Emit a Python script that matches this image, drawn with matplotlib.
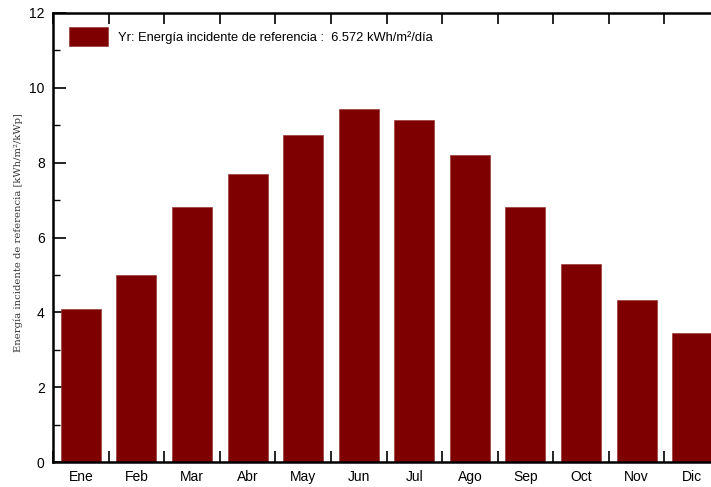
import matplotlib.pyplot as plt
import matplotlib.patches as mpatches
import numpy as np
from matplotlib.ticker import MultipleLocator

months = ["Ene", "Feb", "Mar", "Abr", "May", "Jun", "Jul", "Ago", "Sep", "Oct", "Nov", "Dic"]
yr = [4.09, 5.00, 6.81, 7.70, 8.74, 9.43, 9.14, 8.20, 6.81, 5.29, 4.33, 3.45]
legend_text = "Yr: Energía incidente de referencia :  6.572 kWh/m²/día"

plt.rcParams["font.family"] = ["Liberation Sans", "DejaVu Sans"]

fig = plt.figure(figsize=(7.11, 4.87), dpi=100)
# axes runs a little past the right edge, like the cropped original
ax = fig.add_axes([53 / 711, 25 / 487, 667 / 711, 449 / 487])

x = np.arange(len(months))
ax.bar(x, yr, width=0.72, color="#7f0000", edgecolor="#9a3a3a", linewidth=0.5, zorder=2)

ax.set_xlim(-0.5, 11.5)
ax.set_ylim(0, 12)
ax.set_xticks(x)
ax.set_xticklabels(months, fontsize=10)
ax.tick_params(axis="x", which="major", length=0, pad=6)
ax.set_xticks(np.arange(-0.5, 12, 1), minor=True)
ax.tick_params(axis="x", which="minor", direction="in", length=8, width=1.2, top=True, bottom=True)

ax.yaxis.set_major_locator(MultipleLocator(2))
ax.yaxis.set_minor_locator(MultipleLocator(1))
ax.tick_params(axis="y", which="major", direction="in", length=9, width=1.2, labelsize=10, pad=6)
ax.tick_params(axis="y", which="minor", direction="in", length=5, width=1)

for s in ax.spines.values():
    s.set_linewidth(1.8)
ax.spines["right"].set_visible(False)

ax.set_ylabel("Energía incidente de referencia [kWh/m²/kWp]", family="serif", fontsize=7.2,
              color="#333333", labelpad=12)
ax.yaxis.set_label_coords(-0.045, 0.51)

handle = mpatches.Patch(facecolor="#7f0000", edgecolor="#9a3a3a", linewidth=0.5, label=legend_text)
ax.legend(handles=[handle], loc="upper left", bbox_to_anchor=(0.012, 0.985), frameon=False,
          fontsize=9.3, handlelength=3.0, handleheight=1.85, borderaxespad=0.2,
          handletextpad=0.8)

fig.savefig("out.png", dpi=100)
